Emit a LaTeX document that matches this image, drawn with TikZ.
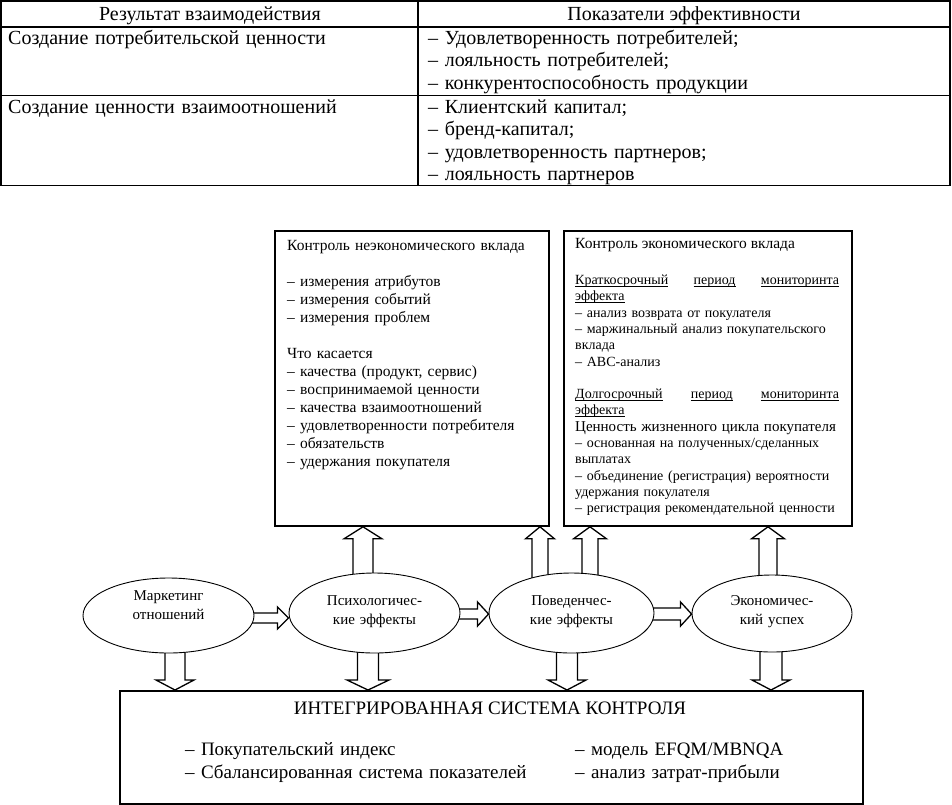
\documentclass[tikz,border=0pt]{standalone}
\usepackage{fontspec}
\setmainfont{Liberation Serif}
\usetikzlibrary{shapes.geometric,calc,backgrounds}
\newcommand\ulw[1]{\underline{\smash{#1}}\vphantom{#1}}
\newcommand\blockarrow[5]{%
  \path (#1) coordinate (ba-s) (#2) coordinate (ba-t);
  \path ($(ba-t)!#5!(ba-s)$) coordinate (ba-h);
  \draw[arrowbody] ($(ba-s)!#3!90:(ba-t)$) -- ($(ba-h)!#3!90:(ba-t)$) -- ($(ba-h)!#4!90:(ba-t)$) -- (ba-t) -- ($(ba-h)!#4!-90:(ba-t)$) -- ($(ba-h)!#3!-90:(ba-t)$) -- ($(ba-s)!#3!-90:(ba-t)$) -- cycle;}
\begin{document}
\begin{tikzpicture}[x=1pt,y=-1pt,
  tabline/.style={line width=1.4pt},
  tabouter/.style={line width=1.8pt},
  tabtext/.style={anchor=base west, inner sep=0pt, text width=400pt, align=left, font=\fontsize{20}{22.6}\selectfont},
  tabhead/.style={anchor=base, inner sep=0pt, font=\fontsize{20}{22.6}\selectfont},
  boxframe/.style={draw, line width=1.8pt, rectangle, inner sep=0pt, anchor=north west, fill=white},
  oval/.style={draw, ellipse, line width=0.9pt, inner sep=0pt, fill=white},
  ovaltext/.style={anchor=base, inner sep=0pt, text width=150pt, align=center, font=\fontsize{15}{19}\selectfont},
  arrowbody/.style={draw, line width=1.3pt, fill=white, line join=miter},
  boxtext/.style={anchor=base west, inner sep=0pt, align=left}
]
\useasboundingbox (0,0) rectangle (952,804);

% ---------- table ----------
\draw[tabouter] (1,1) rectangle (950,185.5);
\draw[tabline] (1,27) -- (950,27);
\draw[tabline] (1,95.5) -- (950,95.5);
\draw[tabline] (418,1) -- (418,185.5);
\node[tabhead] (h1) at (210,20) {Результат взаимодействия};
\node[tabhead] (h2) at (684,20) {Показатели эффективности};
\node[tabtext] (r1a) at (8,44) {Создание потребительской ценности};
\node[tabtext] (r1b) at (428,44) {– Удовлетворенность потребителей;\\– лояльность потребителей;\\– конкурентоспособность продукции};
\node[tabtext] (r2a) at (8,113) {Создание ценности взаимоотношений};
\node[tabtext] (r2b) at (428,113) {– Клиентский капитал;\\– бренд-капитал;\\– удовлетворенность партнеров;\\– лояльность партнеров};

% ---------- boxes ----------
\node[boxframe, minimum width=274pt, minimum height=295pt] (bl) at (274,230) {};
\node[boxframe, minimum width=288pt, minimum height=295pt] (br) at (563,230) {};
\node[boxframe, minimum width=743pt, minimum height=113pt] (bb) at (119,690) {};

\node[boxtext, text width=255pt, font=\fontsize{15.5}{18}\selectfont] (blt) at (287,250) {Контроль неэкономического вклада\\[18pt]
– измерения атрибутов\\
– измерения событий\\
– измерения проблем\\[18pt]
Что касается\\
– качества (продукт, сервис)\\
– воспринимаемой ценности\\
– качества взаимоотношений\\
– удовлетворенности потребителя\\
– обязательств\\
– удержания покупателя};

\node[boxtext, font=\fontsize{15.5}{18}\selectfont] (brt) at (575,248) {Контроль экономического вклада};
\node[boxtext, text width=264pt, font=\fontsize{14}{16.3}\selectfont] (brb) at (575,284.5) {\makebox[\linewidth]{\ulw{Краткосрочный}\hfill\ulw{период}\hfill\ulw{мониторинта}}\\
\ulw{эффекта}\\
– анализ возврата от покулателя\\
\makebox[\linewidth][s]{– маржинальный анализ покупательского}\\
вклада\\
– АВС-анализ\\[16.3pt]
\makebox[\linewidth]{\ulw{Долгосрочный}\hfill\ulw{период}\hfill\ulw{мониторинта}}\\
\ulw{эффекта}\\
{\fontsize{15}{16.3}\selectfont Ценность жизненного цикла покупателя}\\
\makebox[\linewidth][s]{– основанная на полученных/сделанных}\\
выплатах\\
\makebox[\linewidth][s]{– объединение (регистрация) вероятности}\\
удержания покулателя\\
– регистрация рекомендательной ценности};

\node[anchor=base, inner sep=0pt, font=\fontsize{19}{23}\selectfont] (bbt) at (490,714) {ИНТЕГРИРОВАННАЯ СИСТЕМА КОНТРОЛЯ};
\node[boxtext, text width=360pt, font=\fontsize{19}{23}\selectfont] (bbl) at (185,755.5) {– Покупательский индекс\\– Сбалансированная система показателей};
\node[boxtext, text width=270pt, font=\fontsize{19}{23}\selectfont] (bbr) at (575,755.5) {– модель EFQM/MBNQA\\– анализ затрат-прибыли};

% ---------- ellipses ----------
\node[oval, minimum width=171pt, minimum height=75pt] (e1) at (168.5,615.5) {};
\node[oval, minimum width=171pt, minimum height=80pt] (e2) at (374.5,613) {};
\node[oval, minimum width=165pt, minimum height=80pt] (e3) at (571.5,613) {};
\node[oval, minimum width=160pt, minimum height=77pt] (e4) at (772,613.5) {};
\node[ovaltext] (e1t) at (168.5,600.5) {Маркетинг\\отношений};
\node[ovaltext] (e2t) at (374.5,605.5) {Психологичес-\\кие эффекты};
\node[ovaltext] (e3t) at (571.5,605.5) {Поведенчес-\\кие эффекты};
\node[ovaltext] (e4t) at (772,605.5) {Экономичес-\\кий успех};

% ---------- block arrows ----------
\coordinate (u1) at ($(e2.center)+(-11.5,0)$);
\coordinate (u2) at ($(e3.center)+(-31.5,0)$);
\coordinate (u3) at ($(e3.center)+(18.5,0)$);
\coordinate (u4) at ($(e4.center)+(-4,0)$);
\coordinate (d1) at ($(e1.center)+(6.5,0)$);
\coordinate (d2) at ($(e2.center)+(-6.5,0)$);
\coordinate (d3) at ($(e3.center)+(-4.5,0)$);
\coordinate (d4) at ($(e4.center)+(-1,0)$);
\coordinate (g1) at ($(e1.center)+(0,2.5)$);
\coordinate (g2) at ($(e2.center)+(0,1)$);
\coordinate (g3) at ($(e3.center)+(0,1)$);
\begin{pgfonlayer}{background}
\blockarrow{u1}{bl.south -| u1}{10pt}{19pt}{12pt}
\blockarrow{u2}{bl.south -| u2}{8pt}{14.5pt}{12pt}
\blockarrow{u3}{br.south -| u3}{8pt}{16.5pt}{12pt}
\blockarrow{u4}{br.south -| u4}{9pt}{16.5pt}{12pt}
\blockarrow{d1}{bb.north -| d1}{10pt}{19pt}{10pt}
\blockarrow{d2}{bb.north -| d2}{10.5pt}{21pt}{10pt}
\blockarrow{d3}{bb.north -| d3}{10.5pt}{19pt}{10pt}
\blockarrow{d4}{bb.north -| d4}{11pt}{19pt}{10pt}
\blockarrow{g1}{e2.west |- g1}{5pt}{11pt}{11pt}
\blockarrow{g2}{e3.west |- g2}{5pt}{12pt}{11pt}
\blockarrow{g3}{e4.west |- g3}{6pt}{12pt}{11pt}
\end{pgfonlayer}
\end{tikzpicture}
\end{document}
